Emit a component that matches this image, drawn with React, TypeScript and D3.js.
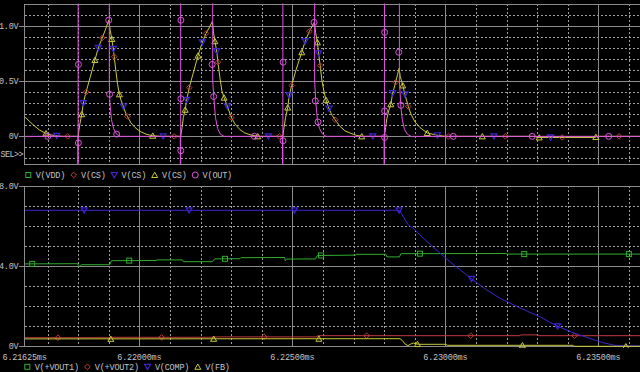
import React from "react";
import * as d3 from "d3";

// ---- data (time in microseconds, values in volts) ----
const xTicksMajor = [6216.25, 6220, 6225, 6230, 6235];
const xTicksMinor = [6217, 6218, 6219, 6221, 6222, 6223, 6224, 6226, 6227, 6228, 6229, 6231, 6232, 6233, 6234, 6236];
const topTicksMajor = [0, 0.5, 1.0];
const topTicksMinor = [-0.2, -0.1, 0.1, 0.2, 0.3, 0.4, 0.6, 0.7, 0.8, 0.9, 1.1];
const botTicksMajor = [0, 4, 8];
const botTicksMinor = [1, 2, 3, 5, 6, 7];

const topLegend = ["V(VDD)", "V(CS)", "V(CS)", "V(CS)", "V(OUT)"];
const botLegend = ["V(+VOUT1)", "V(+VOUT2)", "V(COMP)", "V(FB)"];

const csSeries: [number, number][] = [
  [6216.25, 0.18], [6216.43, 0.13], [6216.59, 0.09], [6216.75, 0.055], [6216.92, 0.03], [6217.08, 0.015], [6217.28, 0.005], [6217.47, 0],
  [6218.0, 0], [6218.05, 0.1], [6218.12, 0.2], [6218.17, 0.3], [6218.26, 0.4], [6218.39, 0.53], [6218.55, 0.69], [6218.66, 0.8], [6218.79, 0.89], [6218.9, 0.97], [6219.0, 1.05],
  [6219.05, 0.96], [6219.1, 0.88], [6219.15, 0.79], [6219.18, 0.72], [6219.24, 0.58], [6219.29, 0.47], [6219.35, 0.38], [6219.41, 0.32], [6219.48, 0.27], [6219.54, 0.22], [6219.61, 0.18], [6219.73, 0.12], [6219.86, 0.08], [6220.02, 0.045], [6220.22, 0.02], [6220.42, 0.006], [6220.68, 0],
  [6221.35, 0], [6221.4, 0.08], [6221.44, 0.17], [6221.5, 0.24], [6221.55, 0.33], [6221.63, 0.44], [6221.75, 0.56], [6221.92, 0.73], [6222.06, 0.85], [6222.18, 0.93], [6222.28, 0.98], [6222.39, 1.04],
  [6222.42, 0.95], [6222.47, 0.86], [6222.53, 0.77], [6222.57, 0.67], [6222.64, 0.52], [6222.7, 0.41], [6222.77, 0.35], [6222.88, 0.27], [6223.01, 0.17], [6223.13, 0.11], [6223.29, 0.06], [6223.45, 0.03], [6223.68, 0.01], [6223.88, 0],
  [6224.69, 0], [6224.73, 0.08], [6224.78, 0.17], [6224.85, 0.26], [6224.9, 0.37], [6224.98, 0.46], [6225.12, 0.6], [6225.31, 0.76], [6225.42, 0.86], [6225.56, 0.95], [6225.64, 0.99], [6225.72, 1.03],
  [6225.76, 0.94], [6225.82, 0.85], [6225.86, 0.75], [6225.91, 0.64], [6225.97, 0.5], [6226.04, 0.4], [6226.1, 0.33], [6226.2, 0.25], [6226.3, 0.19], [6226.4, 0.15], [6226.56, 0.09], [6226.72, 0.05], [6226.89, 0.03], [6227.08, 0.01], [6227.27, 0],
  [6228.01, 0], [6228.05, 0.08], [6228.09, 0.16], [6228.15, 0.23], [6228.22, 0.29], [6228.28, 0.39], [6228.38, 0.49], [6228.44, 0.56], [6228.49, 0.615],
  [6228.53, 0.54], [6228.57, 0.5], [6228.61, 0.46], [6228.68, 0.38], [6228.79, 0.27], [6228.88, 0.2], [6229.01, 0.13], [6229.17, 0.08], [6229.41, 0.03], [6229.74, 0.01], [6229.99, 0],
  [6232.93, 0], [6233.0, -0.01], [6234.89, -0.01], [6234.96, 0], [6236.5, 0],
];
const csRedMarks = [6217.66, 6218.26, 6218.79, 6219.18, 6219.61, 6221.14, 6221.63, 6222.18, 6222.57, 6223.01, 6224.58, 6224.98, 6225.56, 6225.91, 6226.4, 6228.38, 6228.79, 6230.1, 6231.96, 6233.82, 6235.68];
const csBlueMarks = [6217.3, 6218.17, 6218.66, 6219.15, 6219.48, 6220.78, 6221.55, 6222.06, 6222.53, 6222.88, 6224.22, 6224.9, 6225.42, 6225.86, 6226.2, 6227.63, 6228.28, 6228.68, 6229.74, 6231.59, 6233.44];
const csYellowMarks = [6216.95, 6218.12, 6218.55, 6219.1, 6219.35, 6220.44, 6221.5, 6221.92, 6222.47, 6222.77, 6223.87, 6224.85, 6225.31, 6225.82, 6226.1, 6227.27, 6228.22, 6228.61, 6229.41, 6231.21, 6233.07, 6234.92];

const outSeries: [number, number][] = [
  [6216.25, 0], [6217.99, 0], [6218.0, -3], [6218.01, 15], [6219.0, 15], [6219.02, 0.5], [6219.04, 0.3], [6219.09, 0.15], [6219.16, 0.07], [6219.26, 0.02], [6219.37, 0],
  [6221.34, 0], [6221.35, -3], [6221.36, 15], [6222.38, 15], [6222.4, 0.5], [6222.44, 0.33], [6222.49, 0.17], [6222.56, 0.07], [6222.65, 0.02], [6222.77, 0],
  [6224.68, 0], [6224.69, -3], [6224.7, 15], [6225.71, 15], [6225.73, 0.5], [6225.77, 0.3], [6225.82, 0.15], [6225.89, 0.07], [6225.99, 0.02], [6226.1, 0],
  [6228.0, 0], [6228.01, -3], [6228.02, 15], [6228.48, 15], [6228.5, 0.5], [6228.55, 0.26], [6228.6, 0.14], [6228.67, 0.06], [6228.76, 0.02], [6228.88, 0],
  [6236.5, 0],
];
const outMarks: [number, number][] = [
  [6217.01, 0], [6218.012, 0.65], [6218.009, -0.06], [6219.0, 1.05], [6219.03, 0.38], [6219.26, 0.02],
  [6221.36, 1.05], [6221.359, 0.34], [6221.357, -0.13], [6222.38, 0.65], [6222.43, 0.36], [6223.76, 0],
  [6224.699, 0.67], [6224.697, -0.04], [6225.71, 1.03], [6225.75, 0.32], [6225.84, 0.13],
  [6228.019, 0.94], [6228.018, 0.23], [6228.017, -0.01], [6228.48, 0.76], [6228.55, 0.28],
  [6230.26, 0], [6232.84, 0], [6235.34, 0],
];

const vout1Series: [number, number][] = [
  [6216.25, 4.12], [6217.99, 4.13], [6218.01, 4.0], [6218.08, 4.02], [6218.11, 4.08], [6219.03, 4.08], [6219.09, 4.28],
  [6220.55, 4.29], [6220.58, 4.32], [6221.41, 4.32], [6221.44, 4.23], [6222.39, 4.23], [6222.46, 4.37], [6223.29, 4.38], [6223.32, 4.43],
  [6224.75, 4.44], [6224.77, 4.28], [6224.81, 4.36], [6225.76, 4.37], [6225.82, 4.54], [6227.08, 4.56], [6227.11, 4.6],
  [6228.06, 4.6], [6228.09, 4.47], [6228.5, 4.47], [6228.55, 4.63], [6231.98, 4.64], [6232.02, 4.61], [6236.5, 4.61],
];
const vout1Marks = [6216.5, 6219.67, 6222.8, 6225.94, 6229.17, 6232.58, 6236.0];

const vout2Series: [number, number][] = [
  [6216.25, 0.43], [6219.04, 0.43], [6219.07, 0.45], [6222.44, 0.45], [6222.47, 0.47], [6225.77, 0.47], [6225.84, 0.53],
  [6232.44, 0.53], [6232.47, 0.57], [6233.0, 0.57], [6233.03, 0.53], [6236.5, 0.53],
];
const vout2Marks = [6217.34, 6220.73, 6224.08, 6227.43, 6230.83, 6234.22];

const compSeries: [number, number][] = [
  [6216.25, 6.8], [6228.5, 6.8], [6228.62, 6.5], [6228.79, 6.07], [6228.95, 5.9], [6229.17, 5.57], [6229.66, 4.88], [6230.15, 4.23],
  [6230.86, 3.37], [6231.35, 2.82], [6231.79, 2.4], [6232.44, 1.92], [6233.1, 1.47], [6233.67, 1.0], [6234.14, 0.7], [6234.62, 0.45],
  [6235.15, 0.18], [6235.6, 0.03], [6236.5, 0.02],
];
const compMarks = [6218.2, 6221.63, 6225.07, 6228.49, 6230.86, 6233.67];

const fbSeries: [number, number][] = [
  [6216.25, 0.37], [6228.52, 0.38], [6228.59, 0.3], [6228.68, 0.12], [6228.78, 0.03], [6228.88, 0.12], [6228.96, 0.16], [6229.04, 0.12],
  [6229.17, 0.1], [6230.02, 0.1], [6230.06, 0.05], [6234.17, 0.05], [6234.21, 0.0], [6236.5, 0.0],
];
const fbMarks = [6219.07, 6222.43, 6225.87, 6229.09, 6232.52, 6235.9];

// ---- styling ----
const GREEN = "#2fae2f";
const RED = "#c23a3a";
const BLUE = "#3d24d2";
const YELLOW = "#c9c93c";
const MAGENTA = "#e052e0";
const GRID = "#8c8c8c";
const DOT = "#a0a0a0";
const TEXT = "#c4c4c4";
const FONT = "'Liberation Mono', 'DejaVu Sans Mono', monospace";
const FS = 8.5;
const CHAR_W = 4.9;

type Shape = "square" | "diamond" | "down" | "up" | "circle";

function Marker({ shape, x, y, color }: { shape: Shape; x: number; y: number; color: string }) {
  switch (shape) {
    case "square":
      return <rect x={x - 2.5} y={y - 2.5} width={5} height={5} fill="none" stroke={color} strokeWidth={1} />;
    case "diamond":
      return <path d={`M${x},${y - 2.8}L${x + 2.8},${y}L${x},${y + 2.8}L${x - 2.8},${y}Z`} fill="none" stroke={color} strokeWidth={1} />;
    case "down":
      return <path d={`M${x - 3},${y - 2.5}L${x + 3},${y - 2.5}L${x},${y + 2.8}Z`} fill="none" stroke={color} strokeWidth={1.2} />;
    case "up":
      return <path d={`M${x - 3},${y + 2.5}L${x + 3},${y + 2.5}L${x},${y - 2.8}Z`} fill="none" stroke={color} strokeWidth={1} />;
    default:
      return <circle cx={x} cy={y} r={3} fill="none" stroke={color} strokeWidth={1} />;
  }
}

const bis = d3.bisector((d: [number, number]) => d[0]).left;
function valueAt(series: [number, number][], t: number) {
  const i = bis(series, t);
  if (i <= 0) return series[0][1];
  if (i >= series.length) return series[series.length - 1][1];
  const [t0, v0] = series[i - 1];
  const [t1, v1] = series[i];
  return t1 === t0 ? v1 : v0 + ((v1 - v0) * (t - t0)) / (t1 - t0);
}

export default function App() {
  const W = 640, H = 372;
  const x = d3.scaleLinear().domain([6216.25, 6236.5]).range([24.55, 644.2]);
  const yT = d3.scaleLinear().domain([-0.25, 1.2]).range([164.0, 3.6]);
  const yB = d3.scaleLinear().domain([0, 8]).range([346.3, 186.3]);
  const left = 25;
  const crisp = (v: number) => Math.round(v) + 0.5;

  const lineT = d3.line<[number, number]>().x((d) => x(d[0])).y((d) => yT(d[1]));
  const lineB = d3.line<[number, number]>().x((d) => x(d[0])).y((d) => yB(d[1]));

  const fmtV = (v: number) => (v === 0 ? "0V" : v.toFixed(1) + "V");
  const fmtT = (v: number) => (v / 1000).toFixed(5) + "ms";

  const panel = (
    y: d3.ScaleLinear<number, number>,
    major: number[],
    minor: number[],
    top: number,
    bottom: number,
    key: string
  ) => (
    <g key={key} shapeRendering="crispEdges">
      {minor.map((v) => (
        <line key={"hm" + v} x1={left} x2={W} y1={crisp(y(v))} y2={crisp(y(v))} stroke={DOT} strokeDasharray="2,2" />
      ))}
      {xTicksMinor.map((t) => (
        <line key={"vm" + t} x1={crisp(x(t))} x2={crisp(x(t))} y1={top} y2={bottom} stroke={DOT} strokeDasharray="2,2" />
      ))}
      {major.map((v) => (
        <line key={"hM" + v} x1={left - 6} x2={W} y1={crisp(y(v))} y2={crisp(y(v))} stroke={GRID} />
      ))}
      {xTicksMajor.slice(1).map((t) => (
        <line key={"vM" + t} x1={crisp(x(t))} x2={crisp(x(t))} y1={top} y2={bottom} stroke={GRID} />
      ))}
      <line x1={left - 0.5} x2={W} y1={crisp(top)} y2={crisp(top)} stroke={GRID} />
      <line x1={left - 0.5} x2={W} y1={crisp(bottom)} y2={crisp(bottom)} stroke={GRID} />
      <line x1={left - 0.5} x2={left - 0.5} y1={top} y2={bottom + 1} stroke={GRID} />
      {major.map((v) => (
        <text key={"lb" + v} x={18.5} y={y(v) + 3} textAnchor="end" fill={TEXT} fontSize={FS} fontFamily={FONT} letterSpacing={-0.2}>
          {fmtV(v)}
        </text>
      ))}
    </g>
  );

  const legend = (labels: string[], shapes: Shape[], colors: string[], yc: number, startX: number) => {
    let cx = startX;
    return labels.map((lab, i) => {
      const sx = cx;
      const tx = sx + 7.4;
      cx = tx + lab.length * CHAR_W + 8.6;
      return (
        <g key={lab + i}>
          <Marker shape={shapes[i]} x={sx} y={yc} color={colors[i]} />
          <text x={tx} y={yc + 3} fill={TEXT} fontSize={FS} fontFamily={FONT} letterSpacing={-0.2}>
            {lab}
          </text>
        </g>
      );
    });
  };

  const marks = (series: [number, number][], times: number[], y: d3.ScaleLinear<number, number>, shape: Shape, color: string) =>
    times.map((t, i) => <Marker key={shape + color + i} shape={shape} x={x(t)} y={y(valueAt(series, t))} color={color} />);

  return (
    <svg width={W} height={H} style={{ position: "absolute", left: 0, top: 0, background: "#000" }}>
      <defs>
        <clipPath id="clipT">
          <rect x={left} y={3.5} width={W} height={160.5} />
        </clipPath>
        <clipPath id="clipB">
          <rect x={left} y={186} width={W} height={162} />
        </clipPath>
      </defs>
      <rect x={0} y={0} width={W} height={H} fill="#000" />
      {panel(yT, topTicksMajor, topTicksMinor, yT(1.2), yT(-0.25), "top")}
      {panel(yB, botTicksMajor, botTicksMinor, yB(8), yB(0), "bot")}
      <text x={23} y={157} textAnchor="end" fill={TEXT} fontSize={FS} fontFamily={FONT} letterSpacing={-0.6}>
        SEL&gt;&gt;
      </text>

      <g clipPath="url(#clipT)" fill="none">
        <path d={lineT(csSeries) ?? ""} stroke={YELLOW} strokeWidth={1} />
        {marks(csSeries, csRedMarks, yT, "diamond", RED)}
        {marks(csSeries, csBlueMarks, yT, "down", BLUE)}
        {marks(csSeries, csYellowMarks, yT, "up", YELLOW)}
        <path d={lineT(outSeries) ?? ""} stroke={MAGENTA} strokeWidth={1} />
        {outMarks.map(([t, v], i) => (
          <Marker key={"om" + i} shape="circle" x={x(t)} y={yT(v)} color={MAGENTA} />
        ))}
      </g>

      <g clipPath="url(#clipB)" fill="none">
        <path d={lineB(vout1Series) ?? ""} stroke={GREEN} strokeWidth={1} />
        {marks(vout1Series, vout1Marks, yB, "square", GREEN)}
        <path d={lineB(vout2Series) ?? ""} stroke={RED} strokeWidth={1} />
        {marks(vout2Series, vout2Marks, yB, "diamond", RED)}
        <path d={lineB(compSeries) ?? ""} stroke={BLUE} strokeWidth={1} />
        {marks(compSeries, compMarks, yB, "down", BLUE)}
        <path d={lineB(fbSeries) ?? ""} stroke={YELLOW} strokeWidth={1} />
        {marks(fbSeries, fbMarks, yB, "up", YELLOW)}
      </g>

      {xTicksMajor.map((t) => (
        <text key={"xt" + t} x={x(t)} y={360} textAnchor="middle" fill={TEXT} fontSize={FS} fontFamily={FONT} letterSpacing={-0.2}>
          {fmtT(t)}
        </text>
      ))}

      {legend(topLegend, ["square", "diamond", "down", "up", "circle"], [GREEN, RED, BLUE, YELLOW, MAGENTA], 175, 28.3)}
      {legend(botLegend, ["square", "diamond", "down", "up"], [GREEN, RED, BLUE, YELLOW], 366.8, 27.3)}
    </svg>
  );
}
